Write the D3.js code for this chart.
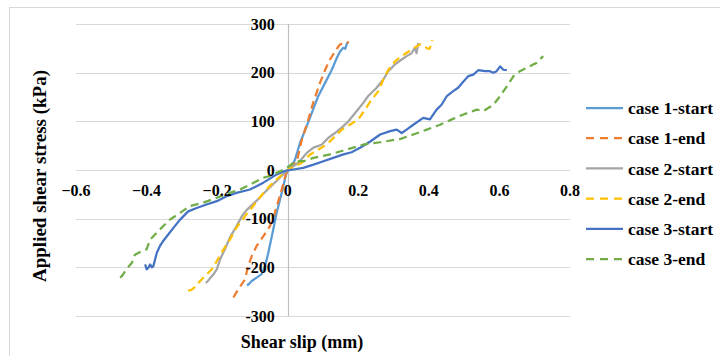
<!DOCTYPE html>
<html>
<head>
<meta charset="utf-8">
<script src="https://cdnjs.cloudflare.com/ajax/libs/d3/7.8.5/d3.min.js"></script>
<style>
    html, body { margin: 0; padding: 0; background: #fff; }
    svg { display: block; }
    .tick-label, .axis-title, .legend-label {
        font-family: "Liberation Serif", "Times New Roman", serif;
        font-weight: bold;
        fill: #000;
    }
</style>
</head>
<body>
<div id="chart"></div>
<script>
/*
 * Axis ticks.
 */
var xTicks = [-0.6, -0.4, -0.2, 0, 0.2, 0.4, 0.6, 0.8];
var yTicks = [-300, -200, -100, 0, 100, 200, 300];
/*
 * Series names, in drawing order.
 */
var seriesNames = ['case 1-start', 'case 1-end', 'case 2-start', 'case 2-end', 'case 3-start', 'case 3-end'];
/*
 * Shear slip (mm) / applied shear stress (kPa) pairs.
 */
var case1Start = [
    [-0.116, -235], [-0.112, -236], [-0.102, -228], [-0.088, -221], [-0.074, -214], [-0.064, -197],
    [-0.055, -170], [-0.045, -136], [-0.031, -87], [-0.017, -47], [-0.005, -10], [0, 0],
    [0.007, 1], [0.021, 22], [0.035, 56], [0.054, 90], [0.068, 117], [0.086, 151], [0.106, 179],
    [0.125, 206], [0.139, 230], [0.148, 243], [0.157, 251], [0.163, 249], [0.167, 258], [0.169, 262]
];
var case1End = [
    [-0.154, -262], [-0.14, -245], [-0.121, -225], [-0.112, -197], [-0.102, -177], [-0.088, -156],
    [-0.069, -136], [-0.05, -115], [-0.036, -87], [-0.017, -40], [-0.005, -8], [0.005, 5],
    [0.012, 12], [0.025, 15], [0.04, 62], [0.058, 103], [0.072, 138], [0.092, 180], [0.106, 206],
    [0.12, 227], [0.134, 244], [0.148, 258], [0.162, 262], [0.174, 262]
];
var case2Start = [
    [-0.232, -232], [-0.226, -228], [-0.22, -222], [-0.211, -215], [-0.201, -204], [-0.192, -184],
    [-0.178, -163], [-0.164, -139], [-0.145, -115], [-0.13, -95], [-0.116, -82], [-0.088, -63],
    [-0.06, -42], [-0.031, -22], [0, 0], [0.03, 15], [0.054, 35], [0.073, 46], [0.096, 52],
    [0.115, 66], [0.134, 76], [0.153, 87], [0.172, 100], [0.191, 117], [0.21, 134], [0.228, 152],
    [0.252, 169], [0.271, 186], [0.285, 203], [0.304, 217], [0.323, 227], [0.337, 234],
    [0.351, 240], [0.36, 251], [0.365, 240], [0.37, 261]
];
var case2End = [
    [-0.282, -248], [-0.272, -246], [-0.262, -240], [-0.253, -232], [-0.24, -222], [-0.23, -215],
    [-0.215, -204], [-0.201, -187], [-0.182, -163], [-0.164, -143], [-0.145, -118], [-0.13, -104],
    [-0.116, -90], [-0.1, -76], [-0.074, -52], [-0.05, -32], [-0.025, -15], [0, 0], [0.01, 4],
    [0.022, 8], [0.04, 15], [0.064, 32], [0.087, 42], [0.11, 52], [0.134, 69], [0.153, 83],
    [0.176, 93], [0.2, 104], [0.219, 124], [0.238, 145], [0.257, 162], [0.271, 186], [0.285, 206],
    [0.304, 223], [0.323, 234], [0.337, 241], [0.351, 247], [0.365, 254], [0.375, 258],
    [0.385, 256], [0.395, 250], [0.402, 249], [0.41, 267]
];
var case3Start = [
    [-0.404, -194], [-0.4, -204], [-0.395, -201], [-0.39, -194], [-0.385, -200], [-0.381, -198],
    [-0.376, -184], [-0.371, -170], [-0.362, -156], [-0.353, -146], [-0.338, -132], [-0.324, -119],
    [-0.305, -102], [-0.282, -85], [-0.258, -78], [-0.23, -71], [-0.201, -64], [-0.173, -54],
    [-0.145, -47], [-0.107, -40], [-0.069, -26], [-0.031, -9], [-0.008, -2], [0.016, 1],
    [0.044, 4.5], [0.073, 11], [0.101, 18], [0.129, 25], [0.158, 32], [0.181, 36.5], [0.205, 45.6],
    [0.233, 58], [0.262, 73], [0.29, 80], [0.309, 83], [0.323, 76], [0.337, 83], [0.356, 93],
    [0.384, 107], [0.403, 104], [0.422, 124], [0.436, 134], [0.451, 152], [0.469, 162],
    [0.483, 169], [0.498, 182], [0.512, 193], [0.526, 196], [0.54, 205], [0.559, 203],
    [0.573, 203], [0.583, 200], [0.592, 203], [0.602, 213], [0.611, 206], [0.621, 205]
];
var case3End = [
    [-0.475, -221], [-0.47, -218], [-0.457, -204], [-0.441, -190], [-0.433, -174], [-0.414, -167],
    [-0.4, -163], [-0.39, -143], [-0.362, -122], [-0.334, -102], [-0.305, -88], [-0.277, -74],
    [-0.239, -67], [-0.201, -57], [-0.164, -47], [-0.135, -40], [-0.107, -30], [-0.069, -16],
    [-0.05, -12], [-0.02, -2], [0.005, 8], [0.02, 18], [0.045, 18], [0.073, 25], [0.12, 32],
    [0.167, 42], [0.214, 52], [0.262, 57], [0.32, 64], [0.356, 73], [0.394, 83], [0.432, 93],
    [0.465, 104], [0.498, 114], [0.536, 124], [0.554, 121], [0.583, 134], [0.602, 152],
    [0.621, 172], [0.64, 193], [0.658, 203], [0.677, 210], [0.696, 217], [0.705, 220], [0.724, 234]
];
/*
 * Series styles, in drawing order.
 */
var seriesColors = ['#5b9bd5', '#ed7d31', '#a5a5a5', '#ffc000', '#4472c4', '#70ad47'];
var seriesDashed = [false, true, false, true, false, true];

var seriesData = [case1Start, case1End, case2Start, case2End, case3Start, case3End];

/*
 * Chart dimensions.
 */
var width = 720;
var height = 356;
var plot = { left: 76, right: 570, top: 24, bottom: 316 };

var svg = d3.select('#chart').append('svg')
    .attr('width', width)
    .attr('height', height);
/*
 * Outer frame (cut by the picture on the right and at the bottom).
 */
svg.append('rect')
    .attr('x', 9.5)
    .attr('y', 7.5)
    .attr('width', 760)
    .attr('height', 400)
    .attr('fill', '#fff')
    .attr('stroke', '#d9d9d9');
/*
 * Scales.
 */
var x = d3.scaleLinear().domain([-0.6, 0.8]).range([plot.left, plot.right]);
var y = d3.scaleLinear().domain([-300, 300]).range([plot.bottom, plot.top]);
/*
 * Horizontal grid lines.
 */
svg.append('g')
    .selectAll('line')
    .data(yTicks)
    .join('line')
    .attr('x1', plot.left)
    .attr('x2', plot.right)
    .attr('y1', d => Math.round(y(d)) + 0.5)
    .attr('y2', d => Math.round(y(d)) + 0.5)
    .attr('stroke', '#d9d9d9')
    .attr('stroke-width', 1.2);
/*
 * Vertical axis line at zero slip.
 */
svg.append('line')
    .attr('x1', Math.round(x(0)) + 0.5)
    .attr('x2', Math.round(x(0)) + 0.5)
    .attr('y1', plot.top)
    .attr('y2', plot.bottom)
    .attr('stroke', '#bfbfbf')
    .attr('stroke-width', 1.2);
/*
 * Series lines.
 */
var line = d3.line()
    .x(d => x(d[0]))
    .y(d => y(d[1]));

svg.append('g')
    .selectAll('path')
    .data(seriesData)
    .join('path')
    .attr('d', line)
    .attr('fill', 'none')
    .attr('stroke', (d, i) => seriesColors[i])
    .attr('stroke-width', 2.25)
    .attr('stroke-linejoin', 'round')
    .attr('stroke-dasharray', (d, i) => seriesDashed[i] ? '8,5' : null);
/*
 * Y tick labels, next to the vertical axis.
 */
svg.append('g')
    .selectAll('text')
    .data(yTicks)
    .join('text')
    .attr('class', 'tick-label')
    .attr('x', x(0) - 13)
    .attr('y', d => y(d))
    .attr('dy', '0.35em')
    .attr('text-anchor', 'end')
    .style('font-size', '16px')
    .text(d => d);
/*
 * X tick labels, under the horizontal zero line.
 */
svg.append('g')
    .selectAll('text')
    .data(xTicks)
    .join('text')
    .attr('class', 'tick-label')
    .attr('x', d => x(d))
    .attr('y', y(0) + 26)
    .attr('text-anchor', 'middle')
    .style('font-size', '16px')
    .text(d => d === 0 ? '0' : d3.format('.1f')(d));
/*
 * Axis titles.
 */
svg.append('text')
    .attr('class', 'axis-title')
    .attr('transform', 'translate(46,' + 176 + ') rotate(-90)')
    .attr('text-anchor', 'middle')
    .style('font-size', '19px')
    .text('Applied shear stress (kPa)');

svg.append('text')
    .attr('class', 'axis-title')
    .attr('x', 302)
    .attr('y', 348)
    .attr('text-anchor', 'middle')
    .style('font-size', '18px')
    .text('Shear slip (mm)');
/*
 * Legend.
 */
var legend = svg.append('g')
    .selectAll('g')
    .data(seriesNames)
    .join('g')
    .attr('transform', (d, i) => 'translate(586,' + (108 + i * 30.2) + ')');

legend.append('line')
    .attr('x1', 0)
    .attr('x2', 37)
    .attr('stroke', (d, i) => seriesColors[i])
    .attr('stroke-width', 2.25)
    .attr('stroke-dasharray', (d, i) => seriesDashed[i] ? '8,6' : null);

legend.append('text')
    .attr('class', 'legend-label')
    .attr('x', 42)
    .attr('dy', '0.35em')
    .style('font-size', '17.5px')
    .text(d => d);
</script>
</body>
</html>
